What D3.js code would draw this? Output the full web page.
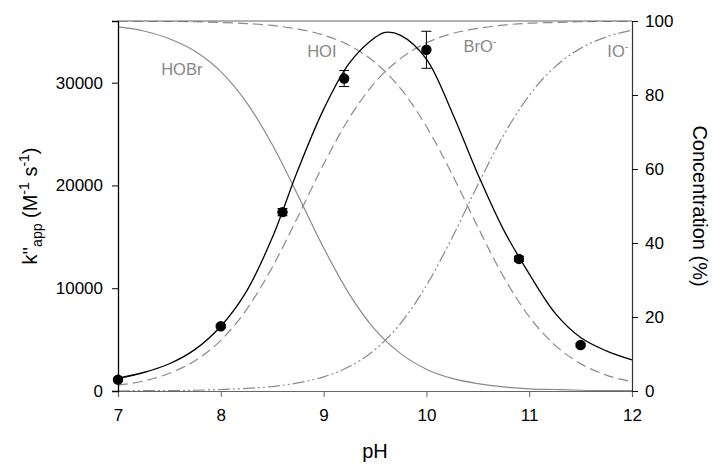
<!DOCTYPE html>
<html>
<head>
<style>
  body { margin: 0; background: #fff; }
  svg text { font-family: "Liberation Sans", Arial, sans-serif; }
  .tick text { font-size: 17px; fill: #000; }
  .title { font-size: 20px; fill: #000; }
  .species { font-size: 16.5px; fill: #888; }
</style>
</head>
<body>
<svg width="712" height="464"></svg>
<script src="https://d3js.org/d3.v7.min.js"></script>
<script>
// species curves, % of total, every 0.25 pH
var phGrid = [7, 7.25, 7.5, 7.75, 8, 8.25, 8.5, 8.75, 9, 9.25, 9.5, 9.75, 10, 10.25, 10.5, 10.75, 11, 11.25, 11.5, 11.75, 12];
var hobr = [98.4, 97.3, 95.2, 91.8, 86.3, 78.0, 66.6, 52.9, 38.7, 26.2, 16.6, 10.1, 5.9, 3.4, 2.0, 1.1, 0.6, 0.4, 0.2, 0.1, 0.1];
var bro  = [1.6, 2.7, 4.8, 8.2, 13.7, 22.0, 33.4, 47.1, 61.3, 73.8, 83.4, 89.9, 94.1, 96.6, 98.0, 98.9, 99.4, 99.6, 99.8, 99.9, 99.9];
var hoi  = [100.0, 99.9, 99.9, 99.8, 99.6, 99.3, 98.8, 97.8, 96.2, 93.4, 88.8, 81.7, 71.5, 58.6, 44.3, 30.9, 20.1, 12.4, 7.4, 4.3, 2.5];
var io   = [0.0, 0.1, 0.1, 0.2, 0.4, 0.7, 1.2, 2.2, 3.8, 6.6, 11.2, 18.3, 28.5, 41.4, 55.7, 69.1, 79.9, 87.6, 92.6, 95.7, 97.5];

// fitted k''app curve
var fitPh = [7, 7.25, 7.5, 7.75, 8, 8.25, 8.5, 8.75, 9, 9.25, 9.5, 9.6, 9.75, 10, 10.25, 10.5, 10.75, 11, 11.25, 11.5, 11.75, 12];
var fitK  = [1240, 1800, 2650, 4050, 6300, 9700, 14900, 21500, 27400, 31900, 34400, 34900, 34600, 32300, 27100, 21100, 15700, 11400, 7600, 5200, 3900, 3020];

// measured points
var measPh  = [7, 8, 8.6, 9.2, 10, 10.9, 11.5];
var measK   = [1100, 6300, 17400, 30400, 33200, 12850, 4480];
var measErr = [150, 150, 350, 780, 1800, 250, 150];

var xTicks = [7, 8, 9, 10, 11, 12];
var kTicks = [0, 10000, 20000, 30000];
var cTicks = [0, 20, 40, 60, 80, 100];

var labels = [
  {name: "HOBr", sup: "", ph: 7.42, c: 85.4},
  {name: "HOI", sup: "", ph: 8.84, c: 90.3},
  {name: "BrO", sup: "-", ph: 10.36, c: 91.6},
  {name: "IO", sup: "-", ph: 11.76, c: 90.3}
];

var svg = d3.select("svg"),
    margin = {top: 21, right: 80, bottom: 73, left: 118},
    width = 712 - margin.left - margin.right,
    height = 464 - margin.top - margin.bottom,
    g = svg.append("g").attr("transform", "translate(" + margin.left + "," + margin.top + ")");

var x = d3.scaleLinear().domain([7, 12]).range([0, width]);
var yK = d3.scaleLinear().domain([0, 36000]).range([height, 0]);
var yC = d3.scaleLinear().domain([0, 100]).range([height, 0]);

g.append("clipPath").attr("id", "clip")
  .append("rect").attr("width", width).attr("height", height);

var plot = g.append("g").attr("clip-path", "url(#clip)");

var speciesLine = d3.line()
  .x(function(d) { return x(d[0]); })
  .y(function(d) { return yC(d[1]); })
  .curve(d3.curveMonotoneX);

function zipPh(vals) { return phGrid.map(function(p, i) { return [p, vals[i]]; }); }

var species = [
  {vals: hobr, dash: null},
  {vals: bro, dash: "10,5"},
  {vals: hoi, dash: "10,5"},
  {vals: io, dash: "12,3,2,3,2,3"}
];
species.forEach(function(s) {
  plot.append("path")
    .attr("d", speciesLine(zipPh(s.vals)))
    .attr("fill", "none")
    .attr("stroke", "#8a8a8a")
    .attr("stroke-width", 1.2)
    .attr("stroke-dasharray", s.dash);
});

var fitLine = d3.line()
  .x(function(d) { return x(d[0]); })
  .y(function(d) { return yK(d[1]); })
  .curve(d3.curveCatmullRom.alpha(0.5));

plot.append("path")
  .attr("d", fitLine(fitPh.map(function(p, i) { return [p, fitK[i]]; })))
  .attr("fill", "none")
  .attr("stroke", "#000")
  .attr("stroke-width", 1.3);

// error bars + dots
var pts = measPh.map(function(p, i) { return {ph: p, k: measK[i], e: measErr[i]}; });
var eb = g.append("g").attr("stroke", "#000").attr("stroke-width", 1);
pts.forEach(function(d) {
  var cx = x(d.ph), y0 = yK(d.k - d.e), y1 = yK(d.k + d.e);
  eb.append("line").attr("x1", cx).attr("x2", cx).attr("y1", y0).attr("y2", y1);
  eb.append("line").attr("x1", cx - 5).attr("x2", cx + 5).attr("y1", y0).attr("y2", y0);
  eb.append("line").attr("x1", cx - 5).attr("x2", cx + 5).attr("y1", y1).attr("y2", y1);
});
g.append("g").selectAll("circle")
  .data(pts)
  .enter().append("circle")
  .attr("cx", function(d) { return x(d.ph); })
  .attr("cy", function(d) { return yK(d.k); })
  .attr("r", 5.2)
  .attr("fill", "#000");

// species labels
var lab = g.append("g").selectAll("text")
  .data(labels)
  .enter().append("text")
  .attr("class", "species")
  .attr("x", function(d) { return x(d.ph); })
  .attr("y", function(d) { return yC(d.c); })
  .text(function(d) { return d.name; });
lab.filter(function(d) { return d.sup; })
  .append("tspan")
  .attr("dy", -7)
  .style("font-size", "11px")
  .text(function(d) { return d.sup; });

// top border
g.append("line").attr("x1", 0).attr("x2", width).attr("y1", 0).attr("y2", 0)
  .attr("stroke", "#666").attr("stroke-width", 1.2);

// axes
var xAxis = g.append("g")
  .attr("transform", "translate(0," + height + ")")
  .call(d3.axisBottom(x).tickValues(xTicks).tickSize(6).tickPadding(12).tickFormat(d3.format("d")));
xAxis.select(".domain").attr("stroke", "#666").attr("stroke-width", 1.2);
xAxis.selectAll(".tick line").attr("stroke", "#666");

var yAxis = g.append("g")
  .call(d3.axisLeft(yK).tickValues(kTicks).tickSize(6).tickPadding(9).tickFormat(d3.format("d")));
yAxis.select(".domain").attr("stroke", "#000").attr("stroke-width", 1.3);

var y2Axis = g.append("g")
  .attr("transform", "translate(" + width + ",0)")
  .call(d3.axisRight(yC).tickValues(cTicks).tickSize(6).tickPadding(7));
y2Axis.select(".domain").attr("stroke", "#333").attr("stroke-width", 1.2);

// titles
svg.append("text")
  .attr("class", "title")
  .attr("x", margin.left + width / 2)
  .attr("y", 458)
  .attr("text-anchor", "middle")
  .text("pH");

var kt = svg.append("text")
  .attr("class", "title")
  .attr("text-anchor", "middle")
  .attr("transform", "translate(37," + (margin.top + height / 2) + ") rotate(-90)");
kt.append("tspan").text("k''");
kt.append("tspan").attr("dy", 5).style("font-size", "14px").text("app");
kt.append("tspan").attr("dy", -5).text(" (M");
kt.append("tspan").attr("dy", -8).style("font-size", "14px").text("-1");
kt.append("tspan").attr("dy", 8).text(" s");
kt.append("tspan").attr("dy", -8).style("font-size", "14px").text("-1");
kt.append("tspan").attr("dy", 8).text(")");

svg.append("text")
  .attr("class", "title")
  .attr("text-anchor", "middle")
  .attr("transform", "translate(693," + (margin.top + height / 2) + ") rotate(90)")
  .text("Concentration (%)");
</script>
</body>
</html>
